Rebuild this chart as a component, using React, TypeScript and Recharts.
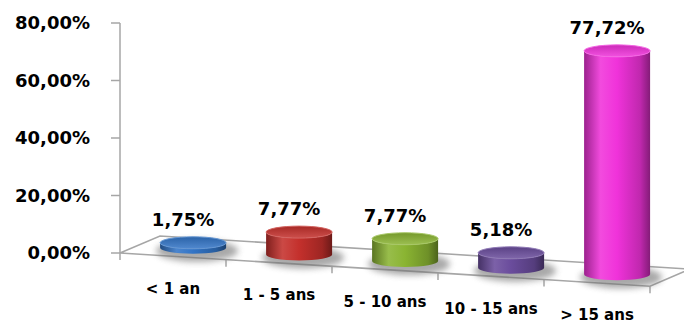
import { BarChart, Bar, XAxis, YAxis } from "recharts";

const categories = ["< 1 an", "1 - 5 ans", "5 - 10 ans", "10 - 15 ans", "> 15 ans"];
const shares = [0.0175, 0.0777, 0.0777, 0.0518, 0.7772];
const barColors = ["#3274c6", "#c4302c", "#8ab432", "#6a4c9c", "#f032da"];
const yTicks = [0, 0.2, 0.4, 0.6, 0.8];

const data = categories.map((name, i) => ({ name, value: shares[i], color: barColors[i] }));

// layout of the fake 3d floor
const LEFT = 120;
const RIGHT = 650;
const TOP = 23;
const BASE = 253;
const SLOPE = 0.0625;
const DX = 40;
const DY = -17;
const RX = 33;
const RY = 6;
const FONT = "DejaVu Sans";

const frontY = (x: number) => BASE + (x - LEFT) * SLOPE;
const pct = (v: number) => (v * 100).toFixed(2).replace(".", ",") + "%";

function shade(hex: string, amt: number) {
  const n = parseInt(hex.slice(1), 16);
  const ch = [(n >> 16) & 255, (n >> 8) & 255, n & 255].map((c) =>
    Math.round(amt >= 0 ? c + (255 - c) * amt : c * (1 + amt))
  );
  return "rgb(" + ch.join(",") + ")";
}

function Floor() {
  const ry = frontY(RIGHT);
  const pts = [
    [LEFT, BASE],
    [RIGHT, ry],
    [RIGHT + DX, ry + DY],
    [LEFT + DX, BASE + DY],
  ]
    .map((p) => p.join(","))
    .join(" ");
  const step = (RIGHT - LEFT) / categories.length;
  return (
    <g>
      <defs>
        <filter id="soft" x="-50%" y="-100%" width="200%" height="300%">
          <feGaussianBlur stdDeviation="3" />
        </filter>
      </defs>
      <polygon points={pts} fill="#fff" stroke="#a6a6a6" strokeWidth={1.5} />
      {categories.concat([""]).map((_, k) => {
        const x = LEFT + k * step;
        return <line key={k} x1={x} y1={frontY(x)} x2={x} y2={frontY(x) + 7} stroke="#a6a6a6" strokeWidth={1.5} />;
      })}
    </g>
  );
}

function Cylinder(props: any) {
  const { x, width, height, index, payload } = props;
  const c = payload.color;
  const fx = x + width / 2;
  const cx = fx + DX / 2;
  const by = frontY(fx) + DY / 2;
  const ty = by - height;
  const body =
    `M${cx - RX},${ty} L${cx - RX},${by} A${RX},${RY} 0 0 0 ${cx + RX},${by} ` +
    `L${cx + RX},${ty} A${RX},${RY} 0 0 1 ${cx - RX},${ty} Z`;
  return (
    <g>
      <defs>
        <linearGradient id={`body-${index}`} x1="0" y1="0" x2="1" y2="0">
          <stop offset="0" stopColor={shade(c, -0.35)} />
          <stop offset="0.25" stopColor={shade(c, 0.12)} />
          <stop offset="0.5" stopColor={c} />
          <stop offset="0.85" stopColor={shade(c, -0.2)} />
          <stop offset="1" stopColor={shade(c, -0.45)} />
        </linearGradient>
        <linearGradient id={`top-${index}`} x1="0" y1="0" x2="0" y2="1">
          <stop offset="0" stopColor={shade(c, -0.15)} />
          <stop offset="1" stopColor={shade(c, 0.15)} />
        </linearGradient>
      </defs>
      <ellipse cx={cx + 4} cy={by + 3} rx={RX + 8} ry={RY + 5} fill="#707070" opacity={0.6} filter="url(#soft)" />
      <path d={body} fill={`url(#body-${index})`} />
      <ellipse cx={cx} cy={ty} rx={RX} ry={RY} fill={`url(#top-${index})`} stroke={shade(c, 0.25)} strokeWidth={1} />
      <text x={fx + 10} y={ty - 17} textAnchor="middle" fontFamily={FONT} fontWeight={700} fontSize={18} fill="#000">
        {pct(payload.value)}
      </text>
    </g>
  );
}

function CategoryTick(props: any) {
  const { x, payload } = props;
  return (
    <text x={x} y={frontY(x) + 37.5} textAnchor="middle" fontFamily={FONT} fontWeight={700} fontSize={15} fill="#000">
      {payload.value}
    </text>
  );
}

export default function App() {
  return (
    <div style={{ position: "absolute", left: 0, top: 0, width: 684, height: 325, background: "#fff" }}>
      <BarChart
        width={684}
        height={325}
        data={data}
        margin={{ top: TOP, right: 684 - RIGHT, bottom: 0, left: 0 }}
      >
        <Floor />
        <XAxis dataKey="name" height={325 - BASE} axisLine={false} tickLine={false} tick={<CategoryTick />} interval={0} />
        <YAxis
          width={LEFT}
          domain={[0, 0.8]}
          ticks={yTicks}
          tickFormatter={pct}
          tickSize={9}
          tickMargin={21}
          axisLine={{ stroke: "#a6a6a6", strokeWidth: 1.5 }}
          tickLine={{ stroke: "#a6a6a6", strokeWidth: 1.5 }}
          tick={{ fill: "#000", fontSize: 18, fontWeight: 700, fontFamily: FONT }}
        />
        <Bar dataKey="value" shape={<Cylinder />} isAnimationActive={false} />
      </BarChart>
    </div>
  );
}
